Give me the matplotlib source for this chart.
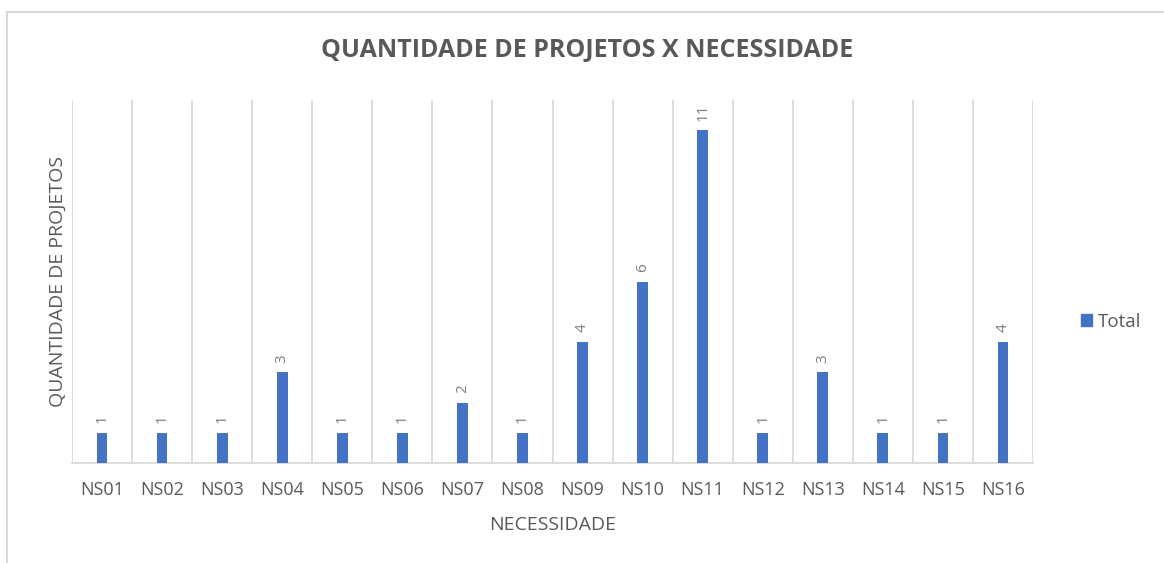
import matplotlib.pyplot as plt
from matplotlib.lines import Line2D
from matplotlib.patches import Patch

# dados
categorias = ["NS01", "NS02", "NS03", "NS04", "NS05", "NS06", "NS07", "NS08",
              "NS09", "NS10", "NS11", "NS12", "NS13", "NS14", "NS15", "NS16"]
totais = [1, 1, 1, 3, 1, 1, 2, 1, 4, 6, 11, 1, 3, 1, 1, 4]

titulo = "QUANTIDADE DE PROJETOS X NECESSIDADE"
rotulo_x = "NECESSIDADE"
rotulo_y = "QUANTIDADE DE PROJETOS"

plt.rcParams['font.family'] = ['Open Sans', 'DejaVu Sans']

azul = "#4472C4"
cinza_txt = "#595959"
cinza_grade = "#D9D9D9"

fig = plt.figure(figsize=(11.64, 5.63), dpi=100)
ax = fig.add_axes([72/1164, 1-463/563, (1033-72)/1164, (463-100)/563])

x = list(range(len(categorias)))
ax.bar(x, totais, width=0.18, color=azul, zorder=3)

# rotulos de dados (girados)
for xi, v in zip(x, totais):
    ax.annotate(str(v), (xi, v), xytext=(0, 7), textcoords="offset points",
                rotation=90, ha="center", va="bottom", fontsize=11, color="#7F7F7F")

ax.set_xlim(-0.5, len(categorias)-0.5)
ax.set_ylim(0, 12)

# grade vertical nas divisoes das categorias
for b in range(len(categorias)+1):
    ax.axvline(b-0.5, color=cinza_grade, lw=1.3, zorder=1)

for s in ["top", "right", "left"]:
    ax.spines[s].set_visible(False)
ax.spines["bottom"].set_color(cinza_grade)
ax.spines["bottom"].set_linewidth(1.3)
ax.set_yticks([])
ax.set_xticks(x)
ax.set_xticklabels(categorias, fontsize=13, color=cinza_txt)
ax.tick_params(axis="x", length=0, pad=13)

ax.set_xlabel(rotulo_x, fontsize=14, color=cinza_txt, labelpad=12)
ax.set_ylabel(rotulo_y, fontsize=14, color=cinza_txt, labelpad=4)

fig.text(587/1164, 1-50/563, titulo, ha="center", va="center",
         fontsize=18, fontweight="bold", color=cinza_txt)

leg = fig.legend(handles=[Patch(color=azul, label="Total")],
                 loc="center left", bbox_to_anchor=(1064/1164, 1-322/563),
                 frameon=False, fontsize=13.5, handlelength=0.6, handleheight=0.6,
                 handletextpad=0.3)
for t in leg.get_texts():
    t.set_color(cinza_txt)

# moldura do grafico
fig.add_artist(Line2D([7/1164, 1], [1-12/563, 1-12/563], color=cinza_grade, lw=1.5))
fig.add_artist(Line2D([7/1164, 7/1164], [0, 1-12/563], color=cinza_grade, lw=1.5))

fig.savefig("out.png", dpi=100)
